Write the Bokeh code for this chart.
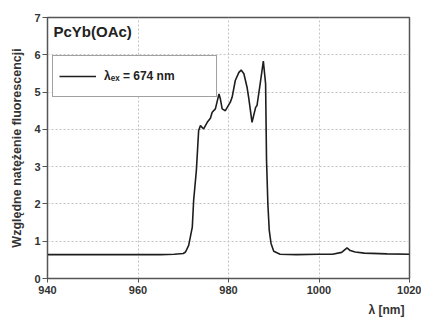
from bokeh.plotting import figure
from bokeh.models import Legend, LegendItem, Label, FixedTicker, Range1d, Title
from bokeh.embed import file_html
from bokeh.resources import INLINE

# data
wavelength = [940, 950, 960, 965, 968, 970, 970.5, 971.2, 972.0, 972.3, 972.9,
              973.4, 973.8, 974.5, 975.3, 976.0, 976.4, 977.1, 977.9, 978.2,
              978.6, 979.3, 980.4, 980.8, 981.5, 982.3, 982.8, 983.4, 984.1,
              984.5, 985.2, 986.0, 986.3, 987.1, 987.7, 988.2, 988.4, 988.7,
              989.0, 989.4, 990.0, 991.4, 995, 1000, 1003, 1005, 1006.2,
              1006.9, 1008, 1010, 1015, 1020]
intensity = [0.64, 0.64, 0.64, 0.64, 0.65, 0.67, 0.71, 0.89, 1.38, 2.10, 2.90,
             3.97, 4.10, 4.01, 4.19, 4.30, 4.46, 4.55, 4.95, 4.82,
             4.55, 4.50, 4.73, 4.86, 5.31, 5.53, 5.59, 5.49, 5.13,
             4.82, 4.19, 4.59, 4.64, 5.31, 5.83, 5.22, 3.20, 2.00,
             1.30, 0.94, 0.73, 0.65, 0.64, 0.65, 0.65, 0.70, 0.82,
             0.75, 0.71, 0.68, 0.66, 0.65]
x_ticks = [940, 960, 980, 1000, 1020]
y_ticks = [0, 1, 2, 3, 4, 5, 6, 7]
title_text = "PcYb(OAc)"
legend_text = "λₑₓ = 674 nm"
x_label = "λ [nm]"
y_label = "Względne natężenie fluorescencji"

FONT = "Liberation Sans"

p = figure(width=421, height=321, output_backend="svg", toolbar_location=None,
           x_range=Range1d(940, 1020), y_range=Range1d(0, 7),
           min_border_left=47, min_border_right=12, min_border_top=17,
           min_border_bottom=43)

p.background_fill_color = "white"
p.border_fill_color = "white"
p.outline_line_color = "#555555"
p.outline_line_width = 1.5

r = p.line(wavelength, intensity, line_color="#1e1e1e", line_width=1.6)

for ax, ticks in ((p.xaxis, x_ticks), (p.yaxis, y_ticks)):
    ax.ticker = FixedTicker(ticks=ticks)
    ax.major_tick_in = 0
    ax.major_tick_out = 4
    ax.minor_tick_line_color = None
    ax.axis_line_color = "#555555"
    ax.major_tick_line_color = "#555555"
    ax.major_label_text_font = FONT
    ax.major_label_text_font_style = "bold"
    ax.major_label_text_font_size = "11px"
    ax.major_label_text_color = "#333333"
    ax.major_label_standoff = 3
    ax.axis_label_text_font = FONT
    ax.axis_label_text_font_style = "bold"
    ax.axis_label_text_color = "#333333"

p.yaxis.major_tick_out = 5
p.yaxis.major_label_standoff = 2
p.yaxis.axis_label = y_label
p.yaxis.axis_label_standoff = 7
p.yaxis.axis_label_text_font_size = "12.5px"

# x-axis title sits at the right end, below the tick labels
p.add_layout(Title(text=x_label, align="right", offset=5, standoff=8,
                   text_font=FONT, text_font_style="bold",
                   text_font_size="12px", text_color="#333333"), "below")

p.xgrid.grid_line_color = "#c4c4c4"
p.ygrid.grid_line_color = "#c4c4c4"
p.xgrid.grid_line_dash = "2 2"
p.ygrid.grid_line_dash = "2 2"

p.add_layout(Label(x=6, y=247, x_units="screen", y_units="screen",
                   text=title_text, text_font=FONT, text_font_style="bold",
                   text_font_size="15px", text_color="#222222",
                   text_baseline="middle"))

legend = Legend(items=[LegendItem(label=legend_text, renderers=[r])],
                location=(5, 181), padding=6, margin=0, spacing=0,
                glyph_width=37, glyph_height=20, label_height=28,
                label_width=106, label_standoff=8,
                label_text_font=FONT, label_text_font_style="bold",
                label_text_font_size="12px", label_text_color="#222222",
                border_line_color="#444444", border_line_width=1.5,
                background_fill_color="white", background_fill_alpha=1.0)
p.add_layout(legend, "center")

open("out.html", "w").write(file_html(p, INLINE))
